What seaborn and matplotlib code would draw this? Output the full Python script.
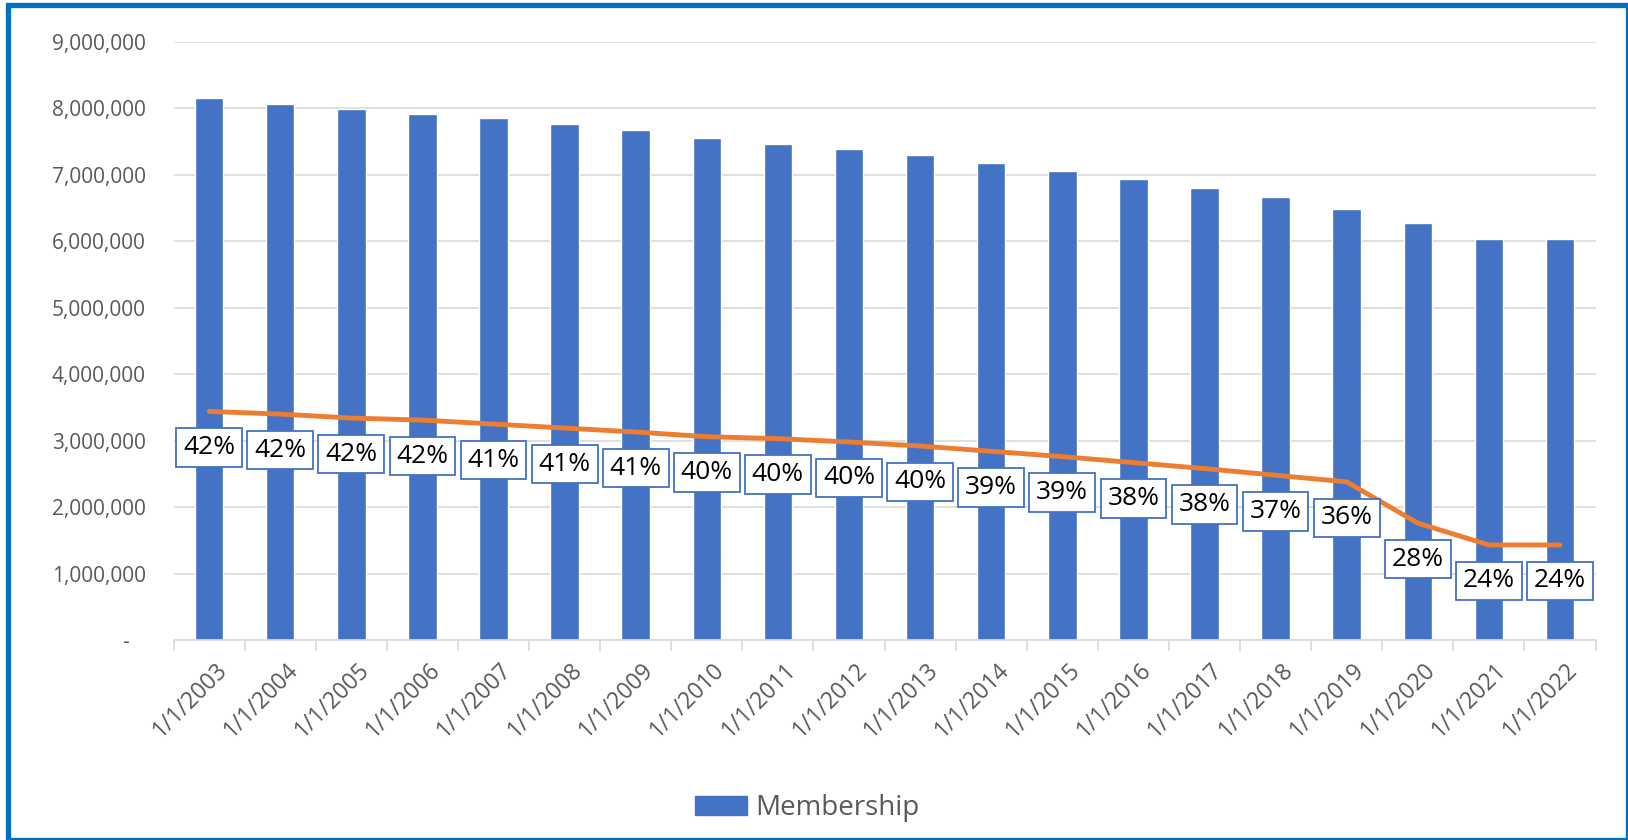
import numpy as np
import pandas as pd
import matplotlib
matplotlib.use("Agg")
import matplotlib.pyplot as plt
import matplotlib.patches as mpatches
import matplotlib.transforms as mtransforms
from matplotlib.ticker import FuncFormatter
import seaborn as sns

dates = ['1/1/2003', '1/1/2004', '1/1/2005', '1/1/2006', '1/1/2007',
         '1/1/2008', '1/1/2009', '1/1/2010', '1/1/2011', '1/1/2012',
         '1/1/2013', '1/1/2014', '1/1/2015', '1/1/2016', '1/1/2017',
         '1/1/2018', '1/1/2019', '1/1/2020', '1/1/2021', '1/1/2022']
membership = [8150000, 8070000, 7990000, 7920000, 7850000,
              7770000, 7670000, 7560000, 7470000, 7390000,
              7300000, 7180000, 7060000, 6940000, 6810000,
              6670000, 6490000, 6270000, 6040000, 6030000]
# orange line (subset of membership) and its share labels
subset = [3440000, 3400000, 3340000, 3310000, 3250000,
          3190000, 3130000, 3060000, 3030000, 2980000,
          2920000, 2840000, 2760000, 2670000, 2580000,
          2480000, 2380000, 1760000, 1430000, 1430000]
share = [42, 42, 42, 42, 41, 41, 41, 40, 40, 40,
         40, 39, 39, 38, 38, 37, 36, 28, 24, 24]

df = pd.DataFrame({'date': dates, 'membership': membership, 'subset': subset})

sns.set_style('white')
plt.rcParams['font.family'] = ['Open Sans', 'DejaVu Sans']

blue = '#4472C4'
orange = '#ED7D31'
gray = '#595959'

fig = plt.figure(figsize=(16.28, 8.4), dpi=100)
ax = fig.add_axes([173.6 / 1628, 1 - 640 / 840, (1595.5 - 173.6) / 1628, (640 - 42) / 840])

sns.barplot(data=df, x='date', y='membership', color=blue, width=0.4,
            saturation=1, ax=ax, zorder=2)
sns.pointplot(data=df, x='date', y='subset', color=orange, markers='',
              linewidth=3.5, errorbar=None, ax=ax, zorder=3)

for i, (v, p) in enumerate(zip(subset, share)):
    ax.annotate(f'{p}%', xy=(i, v), xytext=(0, -36), textcoords='offset pixels',
                ha='center', va='center', fontsize=19, color='black', zorder=5,
                bbox=dict(boxstyle='square,pad=0.26', fc='white', ec=blue, lw=1.3))

ax.set_ylim(0, 9000000)
ax.set_xlim(-0.5, len(dates) - 0.5)
ax.set_yticks(np.arange(0, 9000001, 1000000))
ax.yaxis.set_major_formatter(FuncFormatter(lambda v, _: f'{v:,.0f}' if v else '-   '))
ax.grid(axis='y', color='#D9D9D9', lw=1.2, zorder=0)
ax.set_axisbelow(True)
for s in ['top', 'right', 'left']:
    ax.spines[s].set_visible(False)
ax.spines['bottom'].set_color('#D9D9D9')
ax.spines['bottom'].set_linewidth(1.2)
ax.set_xlabel('')
ax.set_ylabel('')

ax.tick_params(axis='y', length=0, pad=20, labelsize=15, labelcolor=gray)
ax.tick_params(axis='x', length=0, pad=13, labelsize=16.5, labelcolor=gray)
shift = mtransforms.ScaledTranslation(6 / 100, 0, fig.dpi_scale_trans)
for lab in ax.get_xticklabels():
    lab.set_rotation(45)
    lab.set_ha('right')
    lab.set_va('top')
    lab.set_rotation_mode('anchor')
    lab.set_transform(lab.get_transform() + shift)

# tick marks at category boundaries
ax.set_xticks(np.arange(-0.5, len(dates), 1), minor=True)
ax.tick_params(axis='x', which='minor', bottom=True, length=8, width=1.2,
               color='#D9D9D9', direction='out')

handle = mpatches.Patch(color=blue, label='Membership')
fig.legend(handles=[handle], loc='center', bbox_to_anchor=(0.496, 0.038),
           frameon=False, fontsize=20, labelcolor=gray, handlelength=1.87,
           handleheight=0.65, handletextpad=0.3)

border = mpatches.Rectangle((8 / 1628, 0), 1 - 8 / 1628, 1 - 4.5 / 840,
                            transform=fig.transFigure, fill=False,
                            ec='#0070C0', lw=3.8, clip_on=False)
fig.patches.append(border)

fig.savefig('out.png', dpi=100)
